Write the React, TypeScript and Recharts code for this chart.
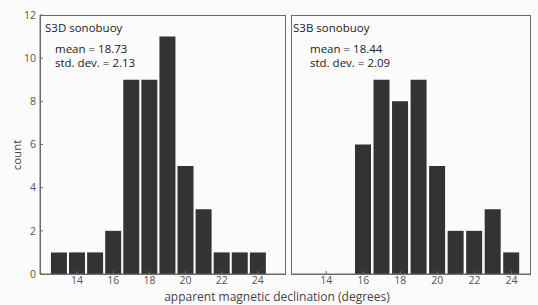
import React from "react";
import { BarChart, Bar, XAxis, YAxis } from "recharts";

const bins = [13, 14, 15, 16, 17, 18, 19, 20, 21, 22, 23, 24];
const s3dCounts = [1, 1, 1, 2, 9, 9, 11, 5, 3, 1, 1, 1];
const s3bCounts = [0, 0, 0, 6, 9, 8, 9, 5, 2, 2, 3, 1];
const xTicks = [14, 16, 18, 20, 22, 24];
const yTicks = [0, 2, 4, 6, 8, 10, 12];
const panelTitles = ["S3D sonobuoy", "S3B sonobuoy"];
const meanLabels = ["mean = 18.73", "mean = 18.44"];
const stdLabels = ["std. dev. = 2.13", "std. dev. = 2.09"];

const s3dData = bins.map((b, i) => ({ bin: b, count: s3dCounts[i] }));
const s3bData = bins.map((b, i) => ({ bin: b, count: s3bCounts[i] }));

const FONT = "'Open Sans', 'DejaVu Sans', sans-serif";
const AXIS = "#6a6a6a";
const BAR = "#333333";
const tickStyle = { fontSize: 10.5, fill: "#555", fontFamily: FONT };

function Panel(props: {
  data: { bin: number; count: number }[];
  left: number;
  width: number;
  margin: { top: number; right: number; bottom: number; left: number };
  domain: [number, number];
  showYLabels: boolean;
}) {
  const { data, left, width, margin, domain, showYLabels } = props;
  return (
    <div style={{ position: "absolute", left, top: 0 }}>
      <BarChart width={width} height={305} data={data} margin={margin} barCategoryGap={0}>
        <XAxis
          dataKey="bin"
          type="number"
          domain={domain}
          ticks={xTicks}
          allowDataOverflow
          height={31}
          tickSize={-3}
          tickMargin={6}
          tick={tickStyle}
          axisLine={{ stroke: AXIS }}
          tickLine={{ stroke: AXIS }}
        />
        <YAxis
          type="number"
          domain={[0, 12]}
          ticks={yTicks}
          width={showYLabels ? 40 : 0}
          tickSize={-3}
          tickMargin={7}
          tick={showYLabels ? tickStyle : false}
          axisLine={{ stroke: AXIS }}
          tickLine={{ stroke: AXIS }}
        />
        <Bar dataKey="count" fill={BAR} barSize={16} isAnimationActive={false} />
      </BarChart>
    </div>
  );
}

const textBase: React.CSSProperties = {
  position: "absolute",
  fontFamily: FONT,
  fontSize: 11.5,
  color: "#222",
  whiteSpace: "nowrap",
  lineHeight: "14px",
};

const boxBase: React.CSSProperties = {
  position: "absolute",
  top: 15,
  height: 260,
  boxSizing: "border-box",
  border: "1px solid " + AXIS,
  pointerEvents: "none",
};

export default function App() {
  return (
    <div
      style={{
        position: "absolute",
        left: 0,
        top: 0,
        width: 538,
        height: 305,
        background: "#fbfbfb",
        overflow: "hidden",
      }}
    >
      <Panel
        data={s3dData}
        left={0}
        width={290}
        margin={{ top: 15, right: 5, bottom: 0, left: 0 }}
        domain={[11.95, 25.5]}
        showYLabels={true}
      />
      <Panel
        data={s3bData}
        left={286}
        width={252}
        margin={{ top: 15, right: 8, bottom: 0, left: 5 }}
        domain={[12.1, 25]}
        showYLabels={false}
      />
      <div style={{ ...boxBase, left: 40, width: 246 }} />
      <div style={{ ...boxBase, left: 291, width: 240 }} />
      <div style={{ ...textBase, left: 45, top: 21 }}>{panelTitles[0]}</div>
      <div style={{ ...textBase, left: 55, top: 42 }}>{meanLabels[0]}</div>
      <div style={{ ...textBase, left: 55, top: 56 }}>{stdLabels[0]}</div>
      <div style={{ ...textBase, left: 293, top: 21 }}>{panelTitles[1]}</div>
      <div style={{ ...textBase, left: 310, top: 42 }}>{meanLabels[1]}</div>
      <div style={{ ...textBase, left: 310, top: 56 }}>{stdLabels[1]}</div>
      <div
        style={{
          ...textBase,
          color: "#444",
          left: 17,
          top: 155,
          transform: "translate(-50%, -50%) rotate(-90deg)",
        }}
      >
        count
      </div>
      <div
        style={{
          ...textBase,
          fontSize: 12,
          lineHeight: "12px",
          color: "#444",
          left: 277,
          top: 291,
          transform: "translateX(-50%)",
        }}
      >
        apparent magnetic declination (degrees)
      </div>
    </div>
  );
}
